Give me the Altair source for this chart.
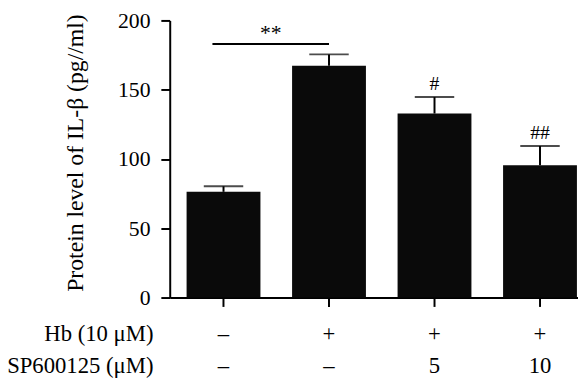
import altair as alt
import pandas as pd

# Data
hb_row = ["–", "+", "+", "+"]
sp_row = ["–", "–", "5", "10"]
means = [76.3, 167.3, 132.8, 95.4]
uppers = [80.3, 175.5, 144.7, 109.4]
sig_marks = ["", "", "#", "##"]

sig_from_idx = 0
sig_to_idx = 1
sig_y = 183
sig_label = "**"

groups = [f"{h}|{s}" for h, s in zip(hb_row, sp_row)]
df = pd.DataFrame({"group": groups, "mean": means, "upper": uppers, "sig": sig_marks})
sig_df = pd.DataFrame({
    "group": [groups[sig_from_idx]],
    "group_end": [groups[sig_to_idx]],
    "y": [sig_y],
    "label": [sig_label],
})

FONT = "Liberation Serif"

xs = alt.Scale(domain=groups, paddingInner=0.3, paddingOuter=0.085, align=0.94)
ys = alt.Scale(domain=[0, 200], nice=False, zero=True)

xaxis = alt.Axis(
    title=["Hb (10 μM)", "SP600125 (μM)"],
    titleX=-17, titleY=26, titleAlign="right", titleBaseline="top", titleAngle=0,
    titleLineHeight=32, titleFontSize=23, titleFontWeight="normal", titleFont=FONT,
    titleColor="black",
    labelExpr="split(datum.label, '|')", labelFontSize=23, labelFont=FONT,
    labelPadding=17, labelLineHeight=32, labelBaseline="top", labelAngle=0,
    labelColor="black",
    tickSize=9, tickWidth=2, tickColor="black",
    domainWidth=2, domainColor="black", grid=False,
)
yaxis = alt.Axis(
    values=[0, 50, 100, 150, 200],
    title="Protein level of IL-β (pg//ml)",
    titleAngle=270, titleX=-95, titleY=134, titleAlign="center", titleBaseline="middle",
    titleFontSize=24, titleFontWeight="normal", titleFont=FONT, titleColor="black",
    labelFontSize=22, labelFont=FONT, labelPadding=11, labelColor="black",
    tickSize=9, tickWidth=2, tickColor="black",
    domainWidth=2, domainColor="black", grid=False,
)

X = alt.X("group:N", scale=xs, sort=groups, axis=xaxis)

base = alt.Chart(df)

bars = base.mark_bar(color="#0a0a0a").encode(
    x=X, y=alt.Y("mean:Q", scale=ys, axis=yaxis)
)
err = base.mark_rule(strokeWidth=2, color="black").encode(
    x=X, y=alt.Y("mean:Q", scale=ys, axis=yaxis), y2="upper:Q"
)
caps = base.mark_tick(size=40, thickness=2, color="black").encode(
    x=X, y=alt.Y("upper:Q", scale=ys, axis=yaxis)
)
sig_text = base.mark_text(font=FONT, fontSize=20, dy=-7, baseline="alphabetic", color="black").encode(
    x=X, y=alt.Y("upper:Q", scale=ys, axis=yaxis), text="sig:N"
)

sig_base = alt.Chart(sig_df)
sig_rule = sig_base.mark_rule(strokeWidth=2, color="black").encode(
    x=alt.X("group:N", scale=xs, sort=groups, axis=xaxis, bandPosition=0.35),
    x2="group_end:N",
    y=alt.Y("y:Q", scale=ys, axis=yaxis),
)
sig_star = sig_base.mark_text(font=FONT, fontSize=22, dx=48, dy=-4, baseline="alphabetic", color="black").encode(
    x=alt.X("group:N", scale=xs, sort=groups, axis=xaxis),
    y=alt.Y("y:Q", scale=ys, axis=yaxis),
    text="label:N",
)

chart = alt.layer(bars, err, caps, sig_text, sig_rule, sig_star).properties(
    width=414, height=281,
    autosize=alt.AutoSizeParams(type="none"),
    padding={"left": 164, "top": 10, "right": 0, "bottom": 81},
    background="white",
).configure_view(stroke=None)

chart.save("out.html", embed_options={"renderer": "svg", "actions": False})
